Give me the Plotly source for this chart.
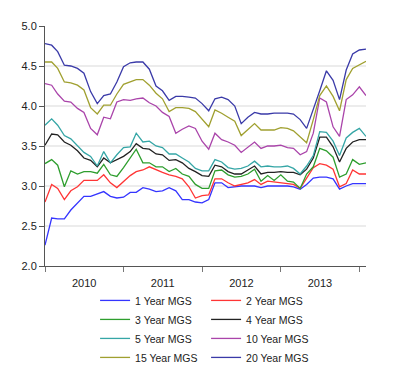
import pandas as pd
import plotly.graph_objects as go

dates = pd.date_range("2010-01-01", periods=50, freq="MS")

one_year = [2.26, 2.60, 2.59, 2.59, 2.70, 2.79, 2.87, 2.87, 2.90, 2.93,
            2.87, 2.85, 2.86, 2.92, 2.92, 2.98, 2.96, 2.93, 2.94, 2.98,
            2.94, 2.83, 2.83, 2.80, 2.79, 2.83, 3.04, 3.04, 2.98, 2.99,
            3.00, 3.00, 3.00, 2.98, 3.00, 3.00, 3.00, 3.00, 2.99, 2.96,
            3.02, 3.10, 3.11, 3.11, 3.09, 2.96, 3.00, 3.03, 3.03, 3.03]
two_year = [2.80, 3.02, 2.97, 2.83, 2.94, 2.99, 3.07, 3.07, 3.07, 3.14,
            3.04, 2.98, 3.06, 3.13, 3.18, 3.20, 3.24, 3.20, 3.17, 3.14,
            3.12, 3.09, 2.99, 2.85, 2.88, 2.89, 3.09, 3.09, 3.04, 3.00,
            3.02, 3.04, 3.08, 3.02, 3.06, 3.05, 3.04, 3.03, 3.02, 2.97,
            3.10, 3.23, 3.28, 3.26, 3.21, 2.99, 3.03, 3.20, 3.15, 3.15]
three_year = [3.28, 3.33, 3.26, 2.99, 3.19, 3.15, 3.18, 3.18, 3.16, 3.27,
              3.14, 3.12, 3.23, 3.35, 3.46, 3.29, 3.29, 3.24, 3.24, 3.18,
              3.22, 3.15, 3.12, 3.02, 2.97, 2.97, 3.19, 3.20, 3.14, 3.11,
              3.12, 3.15, 3.21, 3.06, 3.13, 3.07, 3.14, 3.06, 3.05, 2.97,
              3.15, 3.24, 3.47, 3.44, 3.36, 3.11, 3.15, 3.33, 3.27, 3.29]
four_year = [3.51, 3.65, 3.64, 3.55, 3.51, 3.44, 3.35, 3.32, 3.24, 3.35,
             3.29, 3.33, 3.37, 3.43, 3.53, 3.47, 3.46, 3.40, 3.39, 3.32,
             3.33, 3.29, 3.22, 3.18, 3.13, 3.12, 3.26, 3.24, 3.18, 3.15,
             3.15, 3.20, 3.25, 3.15, 3.17, 3.17, 3.18, 3.17, 3.17, 3.14,
             3.21, 3.35, 3.61, 3.61, 3.49, 3.30, 3.47, 3.55, 3.58, 3.58]
five_year = [3.76, 3.84, 3.76, 3.63, 3.59, 3.51, 3.42, 3.37, 3.25, 3.43,
             3.29, 3.39, 3.48, 3.49, 3.66, 3.55, 3.56, 3.50, 3.48, 3.40,
             3.40, 3.35, 3.30, 3.22, 3.19, 3.19, 3.33, 3.30, 3.23, 3.21,
             3.22, 3.25, 3.31, 3.24, 3.25, 3.24, 3.24, 3.25, 3.22, 3.15,
             3.25, 3.38, 3.68, 3.67, 3.56, 3.38, 3.60, 3.67, 3.72, 3.62]
ten_year = [4.28, 4.26, 4.15, 4.06, 4.05, 3.97, 3.92, 3.72, 3.64, 3.86,
            3.84, 4.05, 4.08, 4.07, 4.09, 4.10, 4.04, 4.00, 3.92, 3.87,
            3.66, 3.71, 3.75, 3.72, 3.56, 3.46, 3.66, 3.58, 3.55, 3.51,
            3.42, 3.48, 3.55, 3.47, 3.50, 3.50, 3.51, 3.48, 3.47, 3.39,
            3.43, 3.66, 4.10, 4.05, 3.74, 3.62, 4.08, 4.14, 4.24, 4.13]
fifteen_year = [4.55, 4.55, 4.47, 4.30, 4.29, 4.26, 4.20, 3.98, 3.90, 4.01,
                4.01, 4.15, 4.27, 4.30, 4.33, 4.33, 4.26, 4.16, 4.09, 3.93,
                3.98, 3.98, 3.97, 3.93, 3.83, 3.74, 3.95, 3.91, 3.86, 3.81,
                3.63, 3.70, 3.78, 3.70, 3.70, 3.70, 3.73, 3.72, 3.69, 3.62,
                3.54, 3.83, 4.13, 4.25, 4.12, 3.94, 4.33, 4.47, 4.51, 4.56]
twenty_year = [4.78, 4.76, 4.68, 4.51, 4.50, 4.47, 4.41, 4.18, 4.03, 4.13,
               4.15, 4.30, 4.49, 4.54, 4.55, 4.55, 4.46, 4.25, 4.19, 4.07,
               4.12, 4.12, 4.11, 4.10, 4.03, 3.94, 4.09, 4.11, 4.08, 4.00,
               3.78, 3.86, 3.92, 3.90, 3.90, 3.91, 3.91, 3.91, 3.90, 3.83,
               3.72, 3.95, 4.19, 4.44, 4.32, 4.08, 4.45, 4.65, 4.70, 4.71]

series_names = ["1 Year MGS", "2 Year MGS", "3 Year MGS", "4 Year MGS",
                "5 Year MGS", "10 Year MGS", "15 Year MGS", "20 Year MGS"]
series_values = [one_year, two_year, three_year, four_year,
                 five_year, ten_year, fifteen_year, twenty_year]
series_colors = ["#3535ff", "#ff3535", "#2e9e2e", "#222222",
                 "#35a6a6", "#aa44aa", "#a0a030", "#3a3aa8"]

y_ticks = [2.0, 2.5, 3.0, 3.5, 4.0, 4.5, 5.0]
grid_values = [2.5, 3.0, 3.5, 4.0, 4.5]
year_labels = ["2010", "2011", "2012", "2013"]
year_starts = ["2010-01-01", "2011-01-01", "2012-01-01", "2013-01-01", "2014-01-01"]
year_mids = ["2010-07-02", "2011-07-02", "2012-07-02", "2013-07-02"]

FONT = "Arial, 'Liberation Sans', sans-serif"

fig = go.Figure()
for name, vals, col in zip(series_names, series_values, series_colors):
    fig.add_trace(go.Scatter(x=dates, y=vals, mode="lines", name=name,
                             line=dict(color=col, width=1.3)))

# horizontal grid lines (none at the top edge, as in the original)
for g in grid_values:
    fig.add_shape(type="line", xref="paper", x0=0, x1=1, yref="y", y0=g, y1=g,
                  line=dict(color="#e6e6e6", width=1.5), layer="below")

# the page body has an 8px default margin, so the figure is sized to fit inside it
fig.update_layout(
    width=384, height=365,
    margin=dict(l=37, r=26, t=18, b=107, autoexpand=False),
    paper_bgcolor="white", plot_bgcolor="white",
    font=dict(family=FONT, size=11, color="#222"),
    showlegend=True,
    legend=dict(orientation="h", x=0.156, xanchor="left", y=-0.083, yanchor="top",
                entrywidth=66, itemwidth=30, font=dict(size=10.5, color="#222"),
                bgcolor="rgba(0,0,0,0)", traceorder="normal"),
)
fig.update_xaxes(
    type="date", range=["2010-01-01", "2014-02-01"],
    tickmode="array", tickvals=year_mids, ticktext=year_labels,
    ticks="outside", ticklen=7, tickcolor="rgba(0,0,0,0)",
    showline=True, linecolor="#555", linewidth=1,
    showgrid=False, zeroline=False, automargin=False,
    minor=dict(tickmode="array", tickvals=year_starts, ticks="outside",
               ticklen=5, tickcolor="#777", showgrid=False),
    tickfont=dict(size=11, color="#222"),
)
fig.update_yaxes(
    range=[2.0, 5.0], tickmode="array", tickvals=y_ticks,
    ticktext=[f"{v:.1f}" for v in y_ticks],
    ticks="outside", ticklen=5, tickcolor="#555",
    showline=True, linecolor="#555", linewidth=1,
    showgrid=False, zeroline=False, automargin=False,
    tickfont=dict(size=11, color="#222"),
)

fig.write_html("out.html")
